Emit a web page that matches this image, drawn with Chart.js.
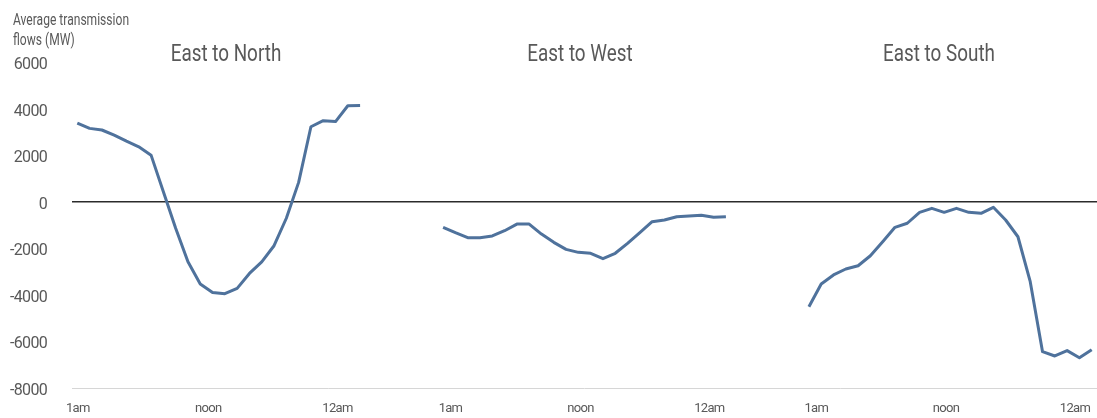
<!DOCTYPE html>
<html><head><meta charset="utf-8">
<script src="https://cdn.jsdelivr.net/npm/chart.js@4.4.1/dist/chart.umd.min.js"></script>
<style>
html,body{margin:0;padding:0;background:#fff;width:1097px;height:418px;overflow:hidden;}
#wrap{position:relative;width:1097px;height:418px;}
canvas{position:absolute;left:0;top:0;}
.t{position:absolute;font-family:Roboto,sans-serif;color:#595959;white-space:nowrap;}
.axt{left:13px;top:9px;font-size:17px;line-height:20px;transform:scaleX(0.71);transform-origin:0 0;}
.pt{width:240px;text-align:center;font-size:23px;line-height:23px;top:42px;transform:scaleX(0.82);transform-origin:50% 0;}
</style></head>
<body><div id="wrap"><canvas id="c" width="1097" height="418"></canvas>
<div class="t axt">Average transmission<br>flows (MW)</div>
<div class="t pt" style="left:106px">East to North</div>
<div class="t pt" style="left:460px">East to West</div>
<div class="t pt" style="left:819px">East to South</div>
</div>
<script>
// hour of day for each point: 1am ... 12am
const hours = [1,2,3,4,5,6,7,8,9,10,11,12,13,14,15,16,17,18,19,20,21,22,23,24];
const panelTitles = ['East to North','East to West','East to South'];
const eastToNorth = [3380,3150,3080,2860,2600,2360,2000,430,-1140,-2580,-3530,-3900,-3950,-3720,-3080,-2580,-1890,-710,830,3220,3480,3440,4120,4130];
const eastToWest  = [-1100,-1330,-1545,-1545,-1470,-1245,-960,-960,-1390,-1745,-2045,-2175,-2215,-2445,-2215,-1790,-1330,-860,-785,-645,-615,-585,-670,-645];
const eastToSouth = [-4510,-3535,-3145,-2890,-2750,-2320,-1720,-1100,-925,-455,-285,-455,-285,-455,-500,-240,-785,-1505,-3435,-6440,-6625,-6395,-6700,-6355];
const yTicks = [6000,4000,2000,0,-2000,-4000,-6000,-8000];
const xTickLabels = ['1am','noon','12am','1am','noon','12am','1am','noon','12am'];
const xTickPos = [1.04,11.65,22.16,31.35,41.92,52.40,61.10,71.65,82.14];
const panelShift = [0,29.75,59.5];

const series = [eastToNorth, eastToWest, eastToSouth];
const FONT = "Roboto, sans-serif";
const datasets = series.map((vals,p)=>({
  label: panelTitles[p],
  data: vals.map((v,i)=>({x: hours[i] + panelShift[p], y: v})),
  borderColor:'#4f729c', borderWidth:3, pointRadius:0, tension:0, fill:false,
  borderJoinStyle:'round', borderCapStyle:'butt'
}));

const condensedText = {
  id:'condensedText',
  beforeDraw(chart){ chart.ctx.letterSpacing = '-0.7px'; },
  beforeLayout(chart){ chart.ctx.letterSpacing = '-0.7px'; }
};

new Chart(document.getElementById('c'), {
  type:'line',
  data:{datasets},
  plugins:[condensedText],
  options:{
    responsive:false, animation:false, devicePixelRatio:1,
    layout:{padding:{top:62,right:0,bottom:0,left:0}},
    plugins:{legend:{display:false}, tooltip:{enabled:false}, title:{display:false}},
    scales:{
      x:{type:'linear', min:0.569, max:83.93,
        afterBuildTicks: s => { s.ticks = xTickPos.map(v=>({value:v})); },
        afterFit: s => { s.height = 30; s.paddingLeft = 0; s.paddingRight = 0; s.paddingTop = 0; s.paddingBottom = 0; },
        ticks:{autoSkip:false, maxRotation:0, minRotation:0, padding:13,
          font:{family:FONT,size:13}, color:'#595959',
          callback:(v,i)=>xTickLabels[i]},
        grid:{display:false, drawTicks:false}, border:{display:false}},
      y:{type:'linear', min:-8000, max:6000,
        afterBuildTicks: s => { s.ticks = yTicks.map(v=>({value:v})); },
        afterFit: s => { s.width = 72; s.paddingTop = 0; s.paddingBottom = 0; s.paddingLeft = 0; s.paddingRight = 0; },
        ticks:{padding:25, labelOffset:3, font:{family:FONT,size:16}, color:'#595959', callback:v=>String(v)},
        grid:{drawTicks:false,
          color:c=> c.tick && c.tick.value===0 ? '#2b2b2b' : (c.tick && c.tick.value===-8000 ? '#d6d6d6' : 'rgba(0,0,0,0)'),
          lineWidth:c=> c.tick && c.tick.value===0 ? 1.5 : 1},
        border:{display:false}}
    }
  }
});
</script>
</body></html>
